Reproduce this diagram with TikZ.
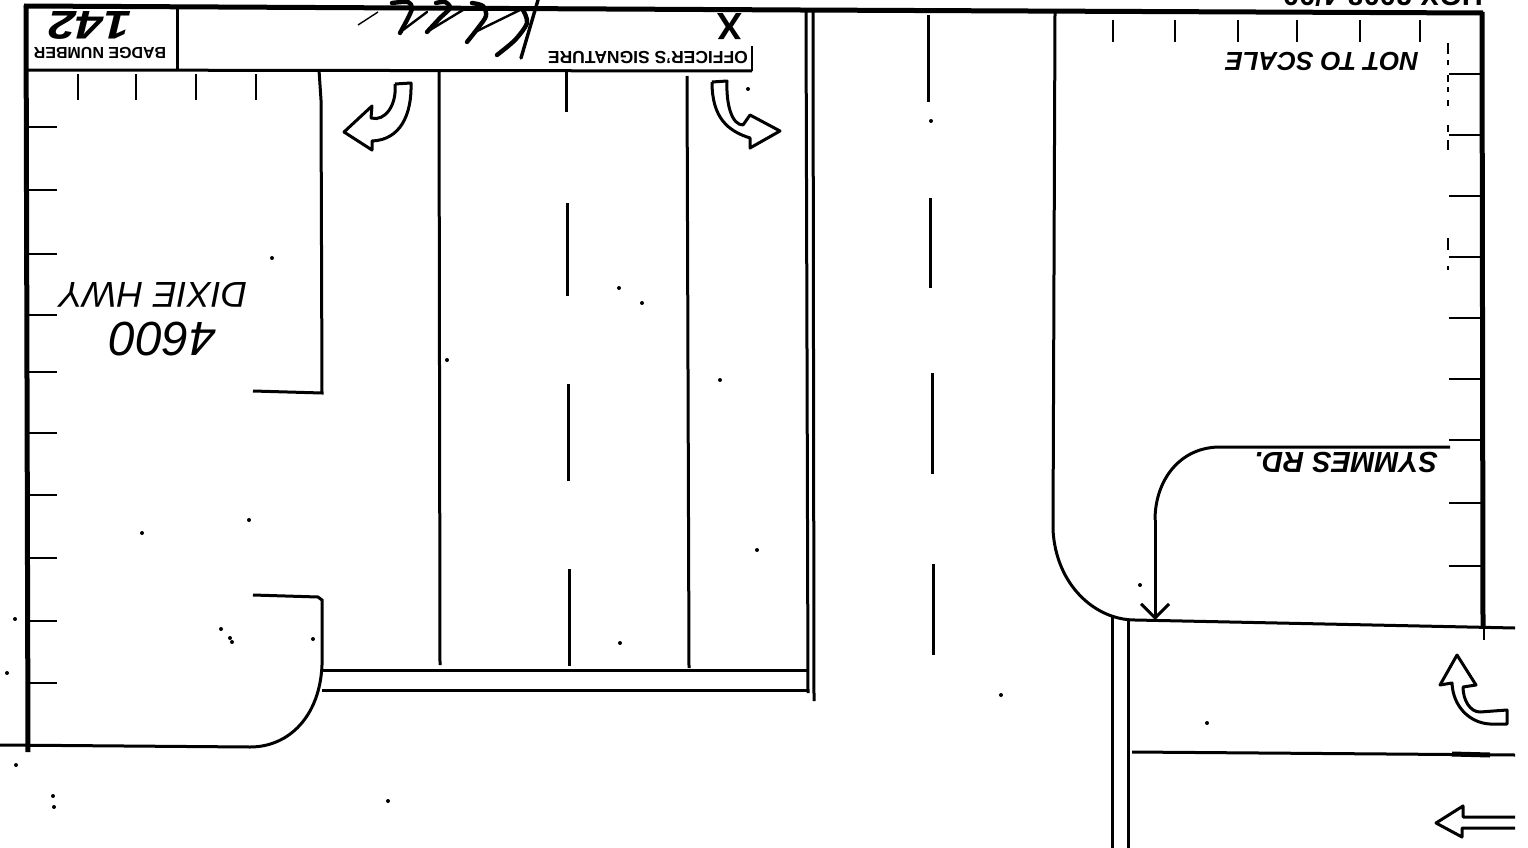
\documentclass[tikz,border=0pt]{standalone}
\usepackage{fontspec}
\setmainfont{Liberation Sans}
\usetikzlibrary{arrows.meta,calc,positioning}
\tikzset{
  frameline/.style={line width=5pt},
  roadline/.style={line width=3pt},
  laneline/.style={line width=3pt},
  tickline/.style={line width=2.4pt},
  turnarrow/.style={line width=3pt, line join=round},
  signstroke/.style={line width=4.4pt, line cap=round, line join=round},
  printed/.style={rotate=180, inner sep=0pt, font=\bfseries\fontsize{#1}{#1}\selectfont},
  handtext/.style={rotate=180, inner sep=0pt, font=\itshape\fontsize{#1}{#1}\selectfont},
  handbold/.style={rotate=180, inner sep=0pt, font=\bfseries\itshape\fontsize{#1}{#1}\selectfont}
}
\begin{document}
\begin{tikzpicture}[x=1pt, y=-1pt]
  \useasboundingbox (0,0) rectangle (1528,848);
  \fill[white] (0,0) rectangle (1528,848);
  % Draw form frame
  \draw[frameline] (24,6) -- (800,10) -- (1483,13);
  \draw[frameline] (26,5) -- (28,752);
  \draw[frameline] (1482,12) -- (1483,627);
  \draw[roadline] (177,8) -- (177,70);
  \draw[roadline] (26,70) -- (752,71);
  \draw[line width=1.6pt] (752,46) -- (752,71);
  % Printed texts
  \node[printed=16] (badgelabel) at (100,53) {BADGE NUMBER};
  \node[printed=17.5] (signlabel) at (648,58) {OFFICER'S SIGNATURE};
  \node[printed=38] (signx) at (730,27) {X};
  \node[printed=29] (formno) at (1383,-4) {HGX 2008 4/00};
  % Handwritten texts
  \node[handbold=40, xscale=1.25] (badgeno) at (90,25) {142};
  \node[handbold=26] (notscale) at (1322,61) {NOT TO SCALE};
  \node[handtext=36] (dixie) at (153,295) {DIXIE HWY};
  \node[handtext=48] (number) at (163,339) {4600};
  \node[handbold=29] (symmes) at (1346,462) {SYMMES RD.};
  % Signature strokes
  \draw[signstroke] plot[smooth] coordinates {(400,33) (408,18) (412,8) (408,2) (392,3)};
  \draw[signstroke, line width=2.4pt] (403,30) -- (427,12);
  \draw[signstroke] plot[smooth] coordinates {(427,32) (440,18) (450,8) (445,2) (436,3)};
  \draw[signstroke, line width=2.4pt] (430,30) -- (463,10);
  \draw[signstroke] plot[smooth] coordinates {(467,42) (478,28) (486,16) (483,6) (472,3)};
  \draw[signstroke, line width=2.4pt] (473,33) -- (520,10);
  \draw[signstroke] plot[smooth] coordinates {(497,55) (515,40) (527,23) (523,10)};
  \draw[signstroke, line width=3.4pt] (521,58) -- (538,0);
  \draw[line width=1.4pt] (358,25) -- (378,12);
  % Ticks along the frame
  \foreach \ty in {127,190,254,315,372,433,495,558,621,683} {
    \draw[tickline] (29,\ty) -- (57,\ty);
  }
  \foreach \tx in {78,136,196,256} {
    \draw[tickline] (\tx,74) -- (\tx,100);
  }
  \foreach \tx in {1113,1175,1238,1297,1360,1420} {
    \draw[tickline] (\tx,20) -- (\tx,42);
  }
  \foreach \ty in {74,135,196,257,318,379,440,503,566} {
    \draw[tickline] (1449,\ty) -- (1481,\ty);
  }
  \foreach \ya/\yb in {43/54,60/65,75/82,87/92,100/106,125/132,140/150,238/250,266/270} {
    \draw[tickline] (1448,\ya) -- (1448,\yb);
  }
  % Left block of the corner
  \draw[roadline] (319,70) -- (321,100) -- (322,393) -- (253,391);
  \draw[roadline] (253,595) -- (318,597) -- (322,600) -- (322,665)
    .. controls (320,715) and (290,747) .. (250,747) -- (0,745);
  % Right block of the corner
  \draw[roadline] (1055,12) -- (1053,530)
    .. controls (1056,585) and (1095,620) .. (1135,620) -- (1515,628);
  \draw[roadline] (1450,447) -- (1220,447)
    .. controls (1180,447) and (1155,480) .. (1155,520);
  \draw[roadline, -{Straight Barb[length=14pt,width=28pt]}] (1155,520) -- (1155,620);
  \draw[tickline] (1484,628) -- (1484,640);
  % Double lines
  \draw[roadline] (322,670) -- (808,670);
  \draw[roadline] (322,690) -- (808,690);
  \draw[roadline] (806,12) -- (808,693);
  \draw[roadline] (813,12) -- (814,701);
  \draw[roadline] (1112,615) -- (1112,848);
  \draw[roadline] (1128,620) -- (1128,848);
  % Lanes
  \draw[laneline] (439,72) -- (440,665);
  \draw[laneline] (687,76) -- (689,668);
  \draw[roadline] (1132,752) -- (1515,755);
  \draw[line width=5pt] (1452,754) -- (1490,755);
  \foreach \lx/\ya/\yb in {566/71/112,567/203/296,568/384/481,569/569/666,
      928/15/102,930/198/288,932/373/474,933/564/655} {
    \draw[laneline] (\lx,\ya) -- (\lx,\yb);
  }
  % Turn arrows
  \draw[turnarrow] (395,84) -- (411,83) .. controls (412,115) and (400,140) .. (372,141)
    -- (372,150) -- (344,132) -- (372,106) -- (371,118)
    .. controls (385,122) and (397,105) .. (395,84);
  \draw[turnarrow] (712,82) -- (727,81) .. controls (726,105) and (732,125) .. (743,125)
    -- (750,115) -- (780,131) -- (750,148) -- (750,138)
    .. controls (728,131) and (712,118) .. (712,82);
  \draw[turnarrow] (1507,710) -- (1480,712) .. controls (1470,712) and (1463,700) .. (1463,687)
    -- (1476,685) -- (1457,655) -- (1440,685) -- (1452,683)
    .. controls (1453,707) and (1470,723) .. (1490,724) -- (1507,724) -- cycle;
  \draw[turnarrow] (1515,817) -- (1463,817) -- (1463,806) -- (1436,823)
    -- (1462,837) -- (1462,828) -- (1515,828);
  % Specks of the scan
  \foreach \sx/\sy in {447/360,619/288,642/303,720/380,757/550,620/643,1001/695,748/89,931/121,
      142/533,249/520,272/258,221/629,230/638,232/642,313/639,15/619,7/673,16/765,53/796,54/807,
      388/801,1207/723,1140/585} {
    \fill (\sx,\sy) circle (2pt);
  }
\end{tikzpicture}
\end{document}
